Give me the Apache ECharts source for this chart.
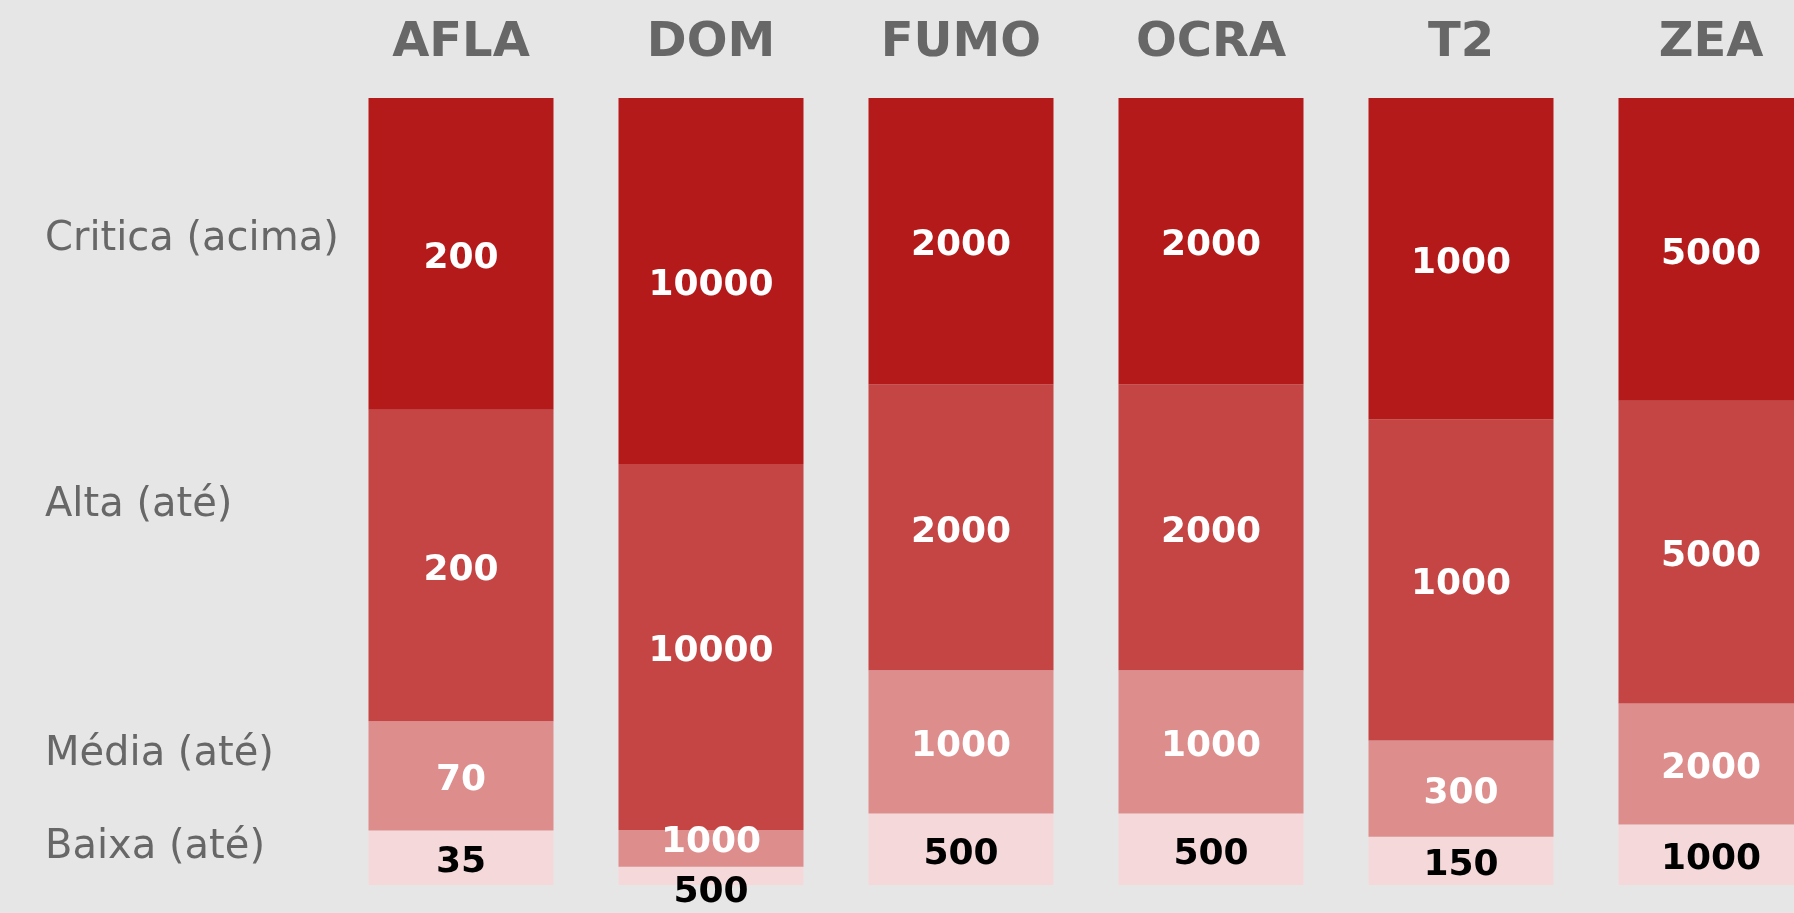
<!DOCTYPE html>
<html>
<head>
<meta charset="utf-8">
<script src="https://cdn.jsdelivr.net/npm/echarts@6/dist/echarts.min.js"></script>
<style>
  html, body { margin: 0; padding: 0; background: #e6e6e6; }
  #chart { width: 1794px; height: 913px; }
</style>
</head>
<body>
<div id="chart"></div>
<script>
var categories = ['AFLA', 'DOM', 'FUMO', 'OCRA', 'T2', 'ZEA'];
var baixa   = [35, 500, 500, 500, 150, 1000];
var media   = [70, 1000, 1000, 1000, 300, 2000];
var alta    = [200, 10000, 2000, 2000, 1000, 5000];
var critica = [200, 10000, 2000, 2000, 1000, 5000];

var levelNames = ['Baixa (até)', 'Média (até)', 'Alta (até)', 'Critica (acima)'];
var levelPos = [4.8, 16.6, 48.2, 82];

var totals = categories.map(function (c, i) {
    return baixa[i] + media[i] + alta[i] + critica[i];
});

function pct(arr) {
    return arr.map(function (v, i) { return v / totals[i] * 100; });
}

var font = 'DejaVu Sans';

function makeSeries(name, arr, color, labelColor) {
    return {
        name: name,
        type: 'bar',
        stack: 'total',
        barWidth: 185,
        data: pct(arr),
        itemStyle: { color: color },
        label: {
            show: true,
            position: 'inside',
            offset: [0, 5],
            color: labelColor,
            fontFamily: font,
            fontWeight: 'bold',
            fontSize: 36,
            formatter: function (p) { return arr[p.dataIndex]; }
        }
    };
}

var dom = document.getElementById('chart');
var myChart = echarts.init(dom);

var sBaixa = makeSeries('Baixa', baixa, '#f5d9da', '#000');
var sMedia = makeSeries('Média', media, '#de8d8d', '#fff');
// DOM: small segments, labels pushed apart like the original
sBaixa.data[1] = { value: sBaixa.data[1], label: { offset: [0, 17] } };
sMedia.data[1] = { value: sMedia.data[1], label: { offset: [0, -6] } };

var option = {
    backgroundColor: '#e6e6e6',
    grid: {
        left: 336,
        top: 98,
        bottom: 28,
        width: 1500,
        outerBoundsMode: 'none',
        containLabel: false
    },
    xAxis: {
        type: 'category',
        position: 'top',
        data: categories,
        axisLine: { show: false },
        axisTick: { show: false },
        axisLabel: {
            color: '#676767',
            fontFamily: font,
            fontWeight: 'bold',
            fontSize: 48,
            margin: 30
        }
    },
    yAxis: {
        type: 'value',
        min: 0,
        max: 100,
        splitLine: { show: false },
        axisLine: { show: false },
        axisTick: { show: false },
        axisLabel: {
            customValues: levelPos,
            align: 'left',
            margin: 291,
            color: '#676767',
            fontFamily: font,
            fontSize: 40,
            formatter: function (v) {
                var i = levelPos.indexOf(v);
                return i >= 0 ? levelNames[i] : '';
            }
        }
    },
    series: [
        sBaixa,
        sMedia,
        makeSeries('Alta', alta, '#c54545', '#fff'),
        makeSeries('Critica', critica, '#b51a1a', '#fff')
    ]
};

myChart.setOption(option);
</script>
</body>
</html>
